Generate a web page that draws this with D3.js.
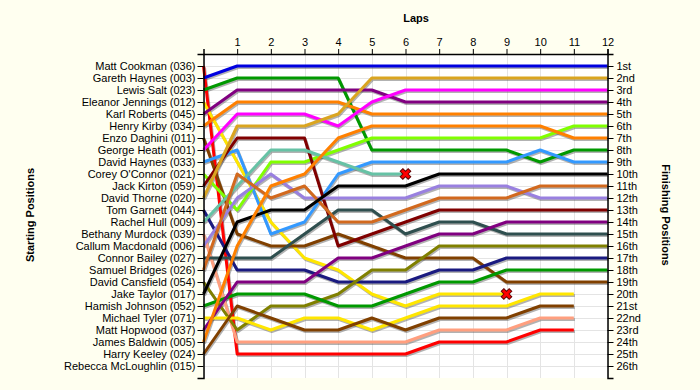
<!DOCTYPE html>
<html>
<head>
<meta charset="utf-8">
<script src="https://cdn.jsdelivr.net/npm/d3@7"></script>
<style>
  html, body { margin: 0; padding: 0; background: #fffff0; }
  svg { display: block; }
  text { font-family: "Liberation Sans", Arial, sans-serif; }
</style>
</head>
<body>
<svg id="chart" width="700" height="390"></svg>
<script>
// ---- Data ----
const drivers = [
  "Matt Cookman (036)", "Gareth Haynes (003)", "Lewis Salt (023)", "Eleanor Jennings (012)",
  "Karl Roberts (045)", "Henry Kirby (034)", "Enzo Daghini (011)", "George Heath (001)",
  "David Haynes (033)", "Corey O'Connor (021)", "Jack Kirton (059)", "David Thorne (020)",
  "Tom Garnett (044)", "Rachel Hull (009)", "Bethany Murdock (039)", "Callum Macdonald (006)",
  "Connor Bailey (027)", "Samuel Bridges (026)", "David Cansfield (054)", "Jake Taylor (017)",
  "Hamish Johnson (052)", "Michael Tyler (071)", "Matt Hopwood (037)", "James Baldwin (005)",
  "Harry Keeley (024)", "Rebecca McLoughlin (015)"
];
const lineColors = [
  "#ff0000", "#0000e0", "#009900", "#ffe600", "#800080", "#ff8000", "#804000", "#ff00ff",
  "#3399ff", "#80ff00", "#800000", "#daa520", "#1a1a80", "#66c2a5", "#ff9f7f", "#9980e0",
  "#2f4f4f", "#d2691e", "#808000", "#000000", "#009900", "#ffe600", "#800080", "#ff8000",
  "#804000", "#999999"
];
// position of each driver (starting order) at lap 0,1,2,...
const lapPositions = [
  [1,25,25,25,25,25,25,24,24,24,23,23],
  [2,1,1,1,1,1,1,1,1,1,1,1,1],
  [3,2,2,2,2,8,8,8,8,8,9,8,8],
  [4,9,14,17,18,20,21,20,20,20],
  [5,3,3,3,3,3,4,4,4,4,4,4,4],
  [6,4,4,4,4,5,5,5,5,5,5,5,5],
  [7,15,16,16,15,16,17,17,17,19,19,19,19],
  [8,5,5,5,6,4,3,3,3,3,3,3,3],
  [9,8,15,14,10,9,9,9,9,9,8,9,9],
  [10,13,9,9,8,7,7,7,7,7,7,6,6],
  [11,7,7,7,16,15,14,13,13,13,13,13,13],
  [12,6,6,6,5,2,2,2,2,2,2,2,2],
  [13,18,18,18,19,19,19,18,18,17,17,17,17],
  [14,11,8,8,9,10,10],
  [15,24,24,24,24,24,24,23,23,23,22,22],
  [16,12,10,12,12,12,12,11,11,11,12,12,12],
  [17,17,17,15,13,13,15,14,14,15,15,15,15],
  [18,10,12,11,14,14,13,12,12,12,11,11,11],
  [19,23,21,21,20,18,18,16,16,16,16,16,16],
  [20,14,13,13,11,11,11,10,10,10,10,10,10],
  [21,20,20,20,21,21,20,19,19,18,18,18,18],
  [22,22,23,22,22,23,22,21,21,21,20,20],
  [23,19,19,19,17,17,16,15,15,14,14,14,14],
  [24,16,11,10,7,6,6,6,6,6,6,7,7],
  [25,21,22,23,23,22,23,22,22,22,21,21],
  []
];
const retired = [false,false,false,true,false,false,false,false,false,false,false,false,false,true,
                 false,false,false,false,false,false,false,false,false,false,false,false];
const lapTicks = [1,2,3,4,5,6,7,8,9,10,11,12];
const finishLabels = ["1st","2nd","3rd","4th","5th","6th","7th","8th","9th","10th","11th","12th","13th",
  "14th","15th","16th","17th","18th","19th","20th","21st","22nd","23rd","24th","25th","26th"];

// ---- Layout ----
const svg = d3.select("#chart");
const plotL = 203.5, plotR = 607.5, plotT = 54, plotB = 378;
const x = d3.scaleLinear().domain([0, 12]).range([plotL, plotR]);
const y = d3.scaleLinear().domain([0, 27]).range([plotT, plotB]);
const posTicks = d3.range(1, 27);

svg.append("rect").attr("x", plotL).attr("y", plotT)
  .attr("width", plotR - plotL).attr("height", plotB - plotT).attr("fill", "#ffffff");

// grid
const grid = svg.append("g").attr("stroke", "#e4e4e4").attr("stroke-width", 1);
grid.selectAll("line.v").data(d3.range(0, 13)).join("line").attr("class", "v")
  .attr("x1", d => Math.round(x(d)) + 0.5).attr("x2", d => Math.round(x(d)) + 0.5)
  .attr("y1", plotT).attr("y2", plotB);
grid.selectAll("line.h").data(posTicks).join("line").attr("class", "h")
  .attr("y1", d => Math.round(y(d)) + 0.5).attr("y2", d => Math.round(y(d)) + 0.5)
  .attr("x1", plotL).attr("x2", plotR);

// lines
const line = d3.line().x((d, i) => x(i)).y(d => y(d)).curve(d3.curveLinear);
const series = lapPositions.map((p, i) => ({ p, color: lineColors[i], retired: retired[i] }))
  .filter(s => s.p.length > 0);

const lines = svg.append("g");
series.forEach(s => {
  lines.append("path").attr("d", line(s.p)).attr("fill", "none")
    .attr("stroke", "#555").attr("stroke-opacity", 0.45).attr("stroke-width", 3)
    .attr("stroke-linejoin", "round")
    .attr("transform", "translate(1,1.5)");
});
series.forEach(s => {
  lines.append("path").attr("d", line(s.p)).attr("fill", "none")
    .attr("stroke", s.color).attr("stroke-width", 3)
    .attr("stroke-linejoin", "round");
});

// retirement markers
const cross = d3.symbol().type(d3.symbolCross).size(70);
series.filter(s => s.retired).forEach(s => {
  const lastLap = s.p.length - 1;
  svg.append("path").attr("d", cross())
    .attr("transform", `translate(${x(lastLap)},${y(s.p[lastLap])}) rotate(45)`)
    .attr("fill", "#ff0000").attr("stroke", "#600000").attr("stroke-width", 1);
});

// axes
const styleAxis = g => {
  g.selectAll("text").attr("font-size", "11px").attr("fill", "#000")
    .attr("font-family", "'Liberation Sans', Arial, sans-serif");
  g.selectAll("path, line").attr("stroke", "#000");
  g.select(".domain").attr("stroke-width", 1.5);
};
svg.append("g").attr("transform", `translate(${plotL},0)`)
  .call(d3.axisLeft(y).tickValues(posTicks).tickFormat(d => drivers[d - 1]).tickSize(6).tickSizeOuter(6).tickPadding(2))
  .call(styleAxis);
svg.append("g").attr("transform", `translate(${plotR},0)`)
  .call(d3.axisRight(y).tickValues(posTicks).tickFormat(d => finishLabels[d - 1]).tickSize(6).tickSizeOuter(6).tickPadding(3))
  .call(styleAxis);
svg.append("g").attr("transform", `translate(0,${plotT})`)
  .call(d3.axisTop(x).tickValues(lapTicks).tickFormat(d => d).tickSize(5).tickSizeOuter(5).tickPadding(3))
  .call(styleAxis);

// titles
svg.append("text").attr("x", 416).attr("y", 22).attr("text-anchor", "middle")
  .attr("font-size", "11px").attr("font-weight", "bold").text("Laps");
svg.append("text").attr("transform", "translate(34,215) rotate(-90)").attr("text-anchor", "middle")
  .attr("font-size", "11px").attr("font-weight", "bold").text("Starting Positions");
svg.append("text").attr("transform", "translate(662,215) rotate(90)").attr("text-anchor", "middle")
  .attr("font-size", "11px").attr("font-weight", "bold").text("Finishing Positions");
</script>
</body>
</html>
